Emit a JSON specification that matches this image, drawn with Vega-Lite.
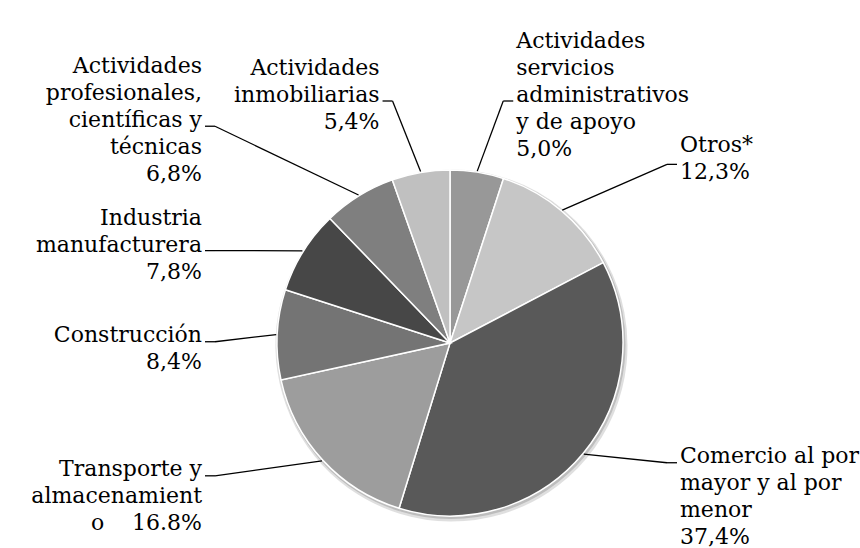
{
  "$schema": "https://vega.github.io/schema/vega-lite/v6.json",
  "width": 820,
  "height": 410,
  "autosize": {"type": "none"},
  "padding": {"left": 40, "top": 138, "right": 0, "bottom": 0},
  "background": "#ffffff",
  "config": {"view": {"stroke": null}},
  "data": {
    "values": [
      {"order": 1, "cat": "Actividades servicios administrativos y de apoyo", "value": 5.0, "label": "Actividades\nservicios\nadministrativos\ny de apoyo\n5,0%"},
      {"order": 2, "cat": "Otros*", "value": 12.3, "label": "Otros*\n12,3%"},
      {"order": 3, "cat": "Comercio al por mayor y al por menor", "value": 37.4, "label": "Comercio al por\nmayor y al por\nmenor\n37,4%"},
      {"order": 4, "cat": "Transporte y almacenamiento", "value": 16.8, "label": "Transporte y\nalmacenamient\no\u00a0\u00a0\u00a0\u00a016.8%"},
      {"order": 5, "cat": "Construcción", "value": 8.4, "label": "Construcción\n8,4%"},
      {"order": 6, "cat": "Industria manufacturera", "value": 7.8, "label": "Industria\nmanufacturera\n7,8%"},
      {"order": 7, "cat": "Actividades profesionales, científicas y técnicas", "value": 6.8, "label": "Actividades\nprofesionales,\ncientíficas y\ntécnicas\n6,8%"},
      {"order": 8, "cat": "Actividades inmobiliarias", "value": 5.4, "label": "Actividades\ninmobiliarias\n5,4%"}
    ]
  },
  "transform": [
    {"joinaggregate": [{"op": "sum", "field": "value", "as": "total"}]},
    {"window": [{"op": "sum", "field": "value", "as": "cum"}], "sort": [{"field": "order", "order": "ascending"}], "frame": [null, 0]},
    {"calculate": "2*PI*(datum.cum - datum.value/2)/datum.total", "as": "a"},
    {"calculate": "sin(datum.a)", "as": "s"},
    {"calculate": "cos(datum.a)", "as": "c"},
    {"calculate": "174*datum.s", "as": "x0"},
    {"calculate": "174*datum.c", "as": "y0"},
    {"calculate": "datum.c < 0 ? -268*pow(abs(datum.c), 1.8) : min(242, 290*pow(datum.c, 1.8))", "as": "ey"},
    {"calculate": "abs(datum.s) < 0.4 ? 340*datum.s : (datum.s > 0 ? 217 : -235)", "as": "ex"},
    {"calculate": "datum.ex + (datum.s > 0 ? 10 : -10)", "as": "tx"},
    {"calculate": "length(split(datum.label, '\\n'))", "as": "n"},
    {"calculate": "datum.c < 0.1 ? datum.ey + 7 : datum.ey + 6 + (datum.n - 1)*13.5", "as": "ty"},
    {"calculate": "datum.tx + (datum.s > 0 ? 3 : -3)", "as": "lx"}
  ],
  "layer": [
    {
      "mark": {"type": "arc", "radius": 176, "xOffset": 1.5, "yOffset": 2.5, "color": "#dcdcdc", "opacity": 0.9},
      "encoding": {
        "theta": {"field": "value", "type": "quantitative", "stack": true},
        "order": {"field": "order", "type": "quantitative"}
      }
    },
    {
      "mark": {"type": "arc", "radius": 174.5, "xOffset": 1, "yOffset": 1.5, "color": "#bdbdbd"},
      "encoding": {
        "theta": {"field": "value", "type": "quantitative", "stack": true},
        "order": {"field": "order", "type": "quantitative"}
      }
    },
    {
      "mark": {"type": "arc", "radius": 173, "stroke": "#ffffff", "strokeWidth": 1.5},
      "encoding": {
        "theta": {"field": "value", "type": "quantitative", "stack": true},
        "order": {"field": "order", "type": "quantitative"},
        "color": {
          "field": "cat",
          "type": "nominal",
          "legend": null,
          "scale": {
            "domain": ["Actividades servicios administrativos y de apoyo", "Otros*", "Comercio al por mayor y al por menor", "Transporte y almacenamiento", "Construcción", "Industria manufacturera", "Actividades profesionales, científicas y técnicas", "Actividades inmobiliarias"],
            "range": ["#989898", "#c6c6c6", "#595959", "#9d9d9d", "#747474", "#474747", "#7f7f7f", "#c0c0c0"]
          }
        }
      }
    },
    {
      "mark": {"type": "rule", "color": "#000000", "strokeWidth": 1.3},
      "encoding": {
        "x": {"field": "x0", "type": "quantitative", "axis": null, "scale": {"domain": [-410, 410], "nice": false, "zero": false}},
        "y": {"field": "y0", "type": "quantitative", "axis": null, "scale": {"domain": [-205, 205], "nice": false, "zero": false}},
        "x2": {"field": "ex"},
        "y2": {"field": "ey"}
      }
    },
    {
      "mark": {"type": "rule", "color": "#000000", "strokeWidth": 1.3},
      "encoding": {
        "x": {"field": "ex", "type": "quantitative", "axis": null, "scale": {"domain": [-410, 410], "nice": false, "zero": false}},
        "y": {"field": "ey", "type": "quantitative", "axis": null, "scale": {"domain": [-205, 205], "nice": false, "zero": false}},
        "x2": {"field": "tx"},
        "y2": {"field": "ey"}
      }
    },
    {
      "transform": [{"filter": "datum.s > 0"}],
      "mark": {"type": "text", "align": "left", "baseline": "middle", "lineBreak": "\n", "font": "DejaVu Serif", "fontSize": 22, "lineHeight": 27, "color": "#000000"},
      "encoding": {
        "x": {"field": "lx", "type": "quantitative", "axis": null, "scale": {"domain": [-410, 410], "nice": false, "zero": false}},
        "y": {"field": "ty", "type": "quantitative", "axis": null, "scale": {"domain": [-205, 205], "nice": false, "zero": false}},
        "text": {"field": "label", "type": "nominal"}
      }
    },
    {
      "transform": [{"filter": "datum.s <= 0"}],
      "mark": {"type": "text", "align": "right", "baseline": "middle", "lineBreak": "\n", "font": "DejaVu Serif", "fontSize": 22, "lineHeight": 27, "color": "#000000"},
      "encoding": {
        "x": {"field": "lx", "type": "quantitative", "axis": null, "scale": {"domain": [-410, 410], "nice": false, "zero": false}},
        "y": {"field": "ty", "type": "quantitative", "axis": null, "scale": {"domain": [-205, 205], "nice": false, "zero": false}},
        "text": {"field": "label", "type": "nominal"}
      }
    }
  ]
}
